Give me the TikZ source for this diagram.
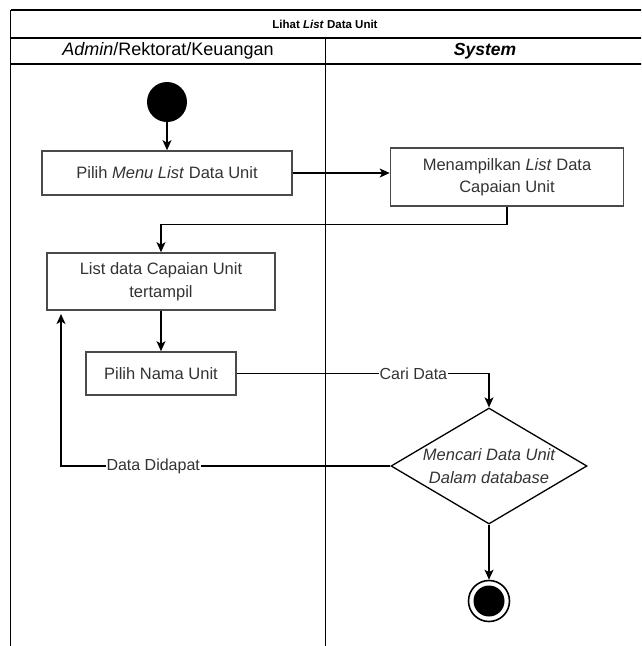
\documentclass[tikz,border=0pt]{standalone}
\usepackage{fontspec}
\setmainfont{Liberation Sans}
\usetikzlibrary{shapes.geometric,arrows.meta}

\definecolor{boxline}{HTML}{4A4A4A}
\definecolor{boxtext}{HTML}{333333}

\tikzset{
  lane/.style={draw=black, line width=1.2pt},
  actbox/.style={draw=boxline, line width=1.6pt, fill=white, inner sep=0pt,
    text=boxtext, align=center, font=\fontsize{16.5}{22.5}\selectfont},
  decision/.style={diamond, draw=black, line width=1.3pt, fill=white, inner sep=0pt,
    minimum width=196pt, minimum height=116pt},
  flow/.style={draw=black, line width=1.2pt, -{Stealth[length=10pt,width=9pt,inset=2.5pt]}},
  flowlabel/.style={fill=white, inner sep=1pt, text=boxtext, font=\fontsize{16}{19}\selectfont},
  startnode/.style={circle, fill=black, minimum size=40pt, inner sep=0pt},
  endnode/.style={circle, draw=black, line width=1.6pt, fill=white, minimum size=41pt, inner sep=0pt,
    path picture={\fill[black] (path picture bounding box.center) circle (15.5pt);}},
  headtext/.style={font=\fontsize{18}{21}\selectfont, text=black}
}

\begin{document}
\begin{tikzpicture}[x=1pt, y=-1pt]
\useasboundingbox (0,0) rectangle (641,646);
\clip (0,0) rectangle (641,646);

% swimlane frame
\draw[lane] (10.5,10) -- (660,10);
\draw[lane] (10.5,38) -- (660,38);
\draw[lane] (10.5,64) -- (660,64);
\draw[lane, line width=1.6pt] (10.5,10) -- (10.5,660);
\draw[lane, line width=1pt] (325,38) -- (325,660);

% titles
\node[font=\bfseries\fontsize{11.5}{13}\selectfont] (title) at (325,24) {Lihat \textit{List} Data Unit};
\node[headtext] (laneA) at (168,51) {\textit{Admin}/Rektorat/Keuangan};
\node[headtext, font=\bfseries\itshape\fontsize{17.5}{21}\selectfont] (laneB) at (485,51) {System};

% activities
\node[startnode] (start) at (167,102) {};
\node[actbox, minimum width=250pt, minimum height=44pt] (b1) at (167,173) {Pilih \textit{Menu List} Data Unit};
\node[actbox, minimum width=233pt, minimum height=58pt] (b2) at (507,177) {Menampilkan \textit{List} Data\\Capaian Unit};
\node[actbox, minimum width=228pt, minimum height=57pt] (b3) at (161,281.5) {List data Capaian Unit\\tertampil};
\node[actbox, minimum width=150pt, minimum height=43pt] (b4) at (161,373.5) {Pilih Nama Unit};
\node[decision] (dm) at (489,466) {};
\node[text=boxtext, align=center, font=\itshape\fontsize{16.5}{23}\selectfont] (dmtext) at (dm.center) {Mencari Data Unit\\Dalam database};
\node[endnode] (end) at (489,601) {};
\coordinate (ret) at (61,314);

% connectors
\draw[flow] (start) -- (b1);
\draw[flow] (b1.east) -- (b1.east -| b2.west);
\draw[flow] (b2.south) -- ++(0,18) -| (b3.north);
\draw[flow] (b3) -- (b4);
\draw[flow] (b4.east) -| node[flowlabel, pos=0.35] (lcari) {Cari Data} (dm.north);
\draw[flow] (dm.west) -| node[flowlabel, pos=0.36] (ldata) {Data Didapat} (ret);
\draw[flow] (dm.south) -- (end.north);
\end{tikzpicture}
\end{document}
